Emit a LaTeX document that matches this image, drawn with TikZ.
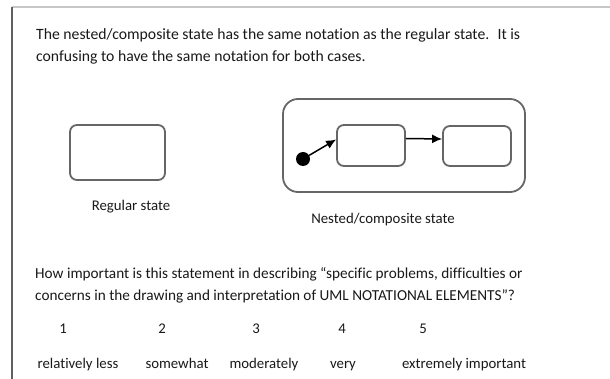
\documentclass[tikz,border=0pt]{standalone}
\usepackage{fontspec}
\setmainfont{Carlito}[Ligatures=NoCommon]
\usetikzlibrary{arrows.meta}

\tikzset{
  statebox/.style={draw=black!60, line width=1.8pt, rounded corners=7pt, inner sep=0pt},
  line/.style={anchor=base west, inner sep=0pt, text=black!90, font=\fontsize{15.7}{18}\selectfont},
  qline/.style={line, font=\fontsize{15.25}{18}\selectfont},
  word/.style={anchor=base, inner sep=0pt, text=black!90},
  trans/.style={-{Latex[length=10pt,width=9pt]}, line width=1.5pt}
}

\begin{document}
\begin{tikzpicture}[x=1pt, y=-1pt, font=\fontsize{14.8}{17}\selectfont]
	\useasboundingbox (0,0) rectangle (610,379);
	\fill[white] (0,0) rectangle (610,379);
	% page edges
	\draw[black!22, line width=1.2pt] (12,7) -- (610,7);
	\draw[black!62, line width=1.4pt] (12,7) -- (12,379);
	% statement
	\node[line] (st1) at (36,40) {The nested/composite state has the same notation as the regular state.~ It is};
	\node[line] (st2) at (36,62) {confusing to have the same notation for both cases.};
	% regular state
	\node[statebox, minimum width=95pt, minimum height=55pt] (reg) at (117.5,152.5) {};
	\node[word] (regtxt) at (131,211) {Regular state};
	% nested state
	\node[statebox, rounded corners=15pt, minimum width=242pt, minimum height=93pt] (outer) at (404,145.5) {};
	\node[statebox, minimum width=68pt, minimum height=41pt] (inA) at (371,145.5) {};
	\node[statebox, minimum width=68pt, minimum height=40pt] (inB) at (477,146) {};
	\node[circle, fill=black, inner sep=0pt, minimum size=14pt] (init) at (303,159) {};
	\draw[trans] (init) -- ([yshift=6pt]inA.west);
	\draw[trans] ([yshift=7pt]inA.east) -- ([yshift=7pt]inB.west);
	\node[word] (nesttxt) at (383,224) {Nested/composite state};
	% question
	\node[qline] (q1) at (35,278) {How important is this statement in describing “specific problems, difficulties or};
	\node[qline] (q2) at (35,300) {concerns in the drawing and interpretation of UML NOTATIONAL ELEMENTS”?};
	\foreach \n/\nx/\lab/\lx in {1/63/relatively less/78, 2/162/somewhat/177, 3/256/moderately/264, 4/342/very/343, 5/423/extremely important/464}
	{
		\node[word] (num\n) at (\nx,333) {\n};
		\node[word] (lab\n) at (\lx,368) {\lab};
	}
\end{tikzpicture}
\end{document}
